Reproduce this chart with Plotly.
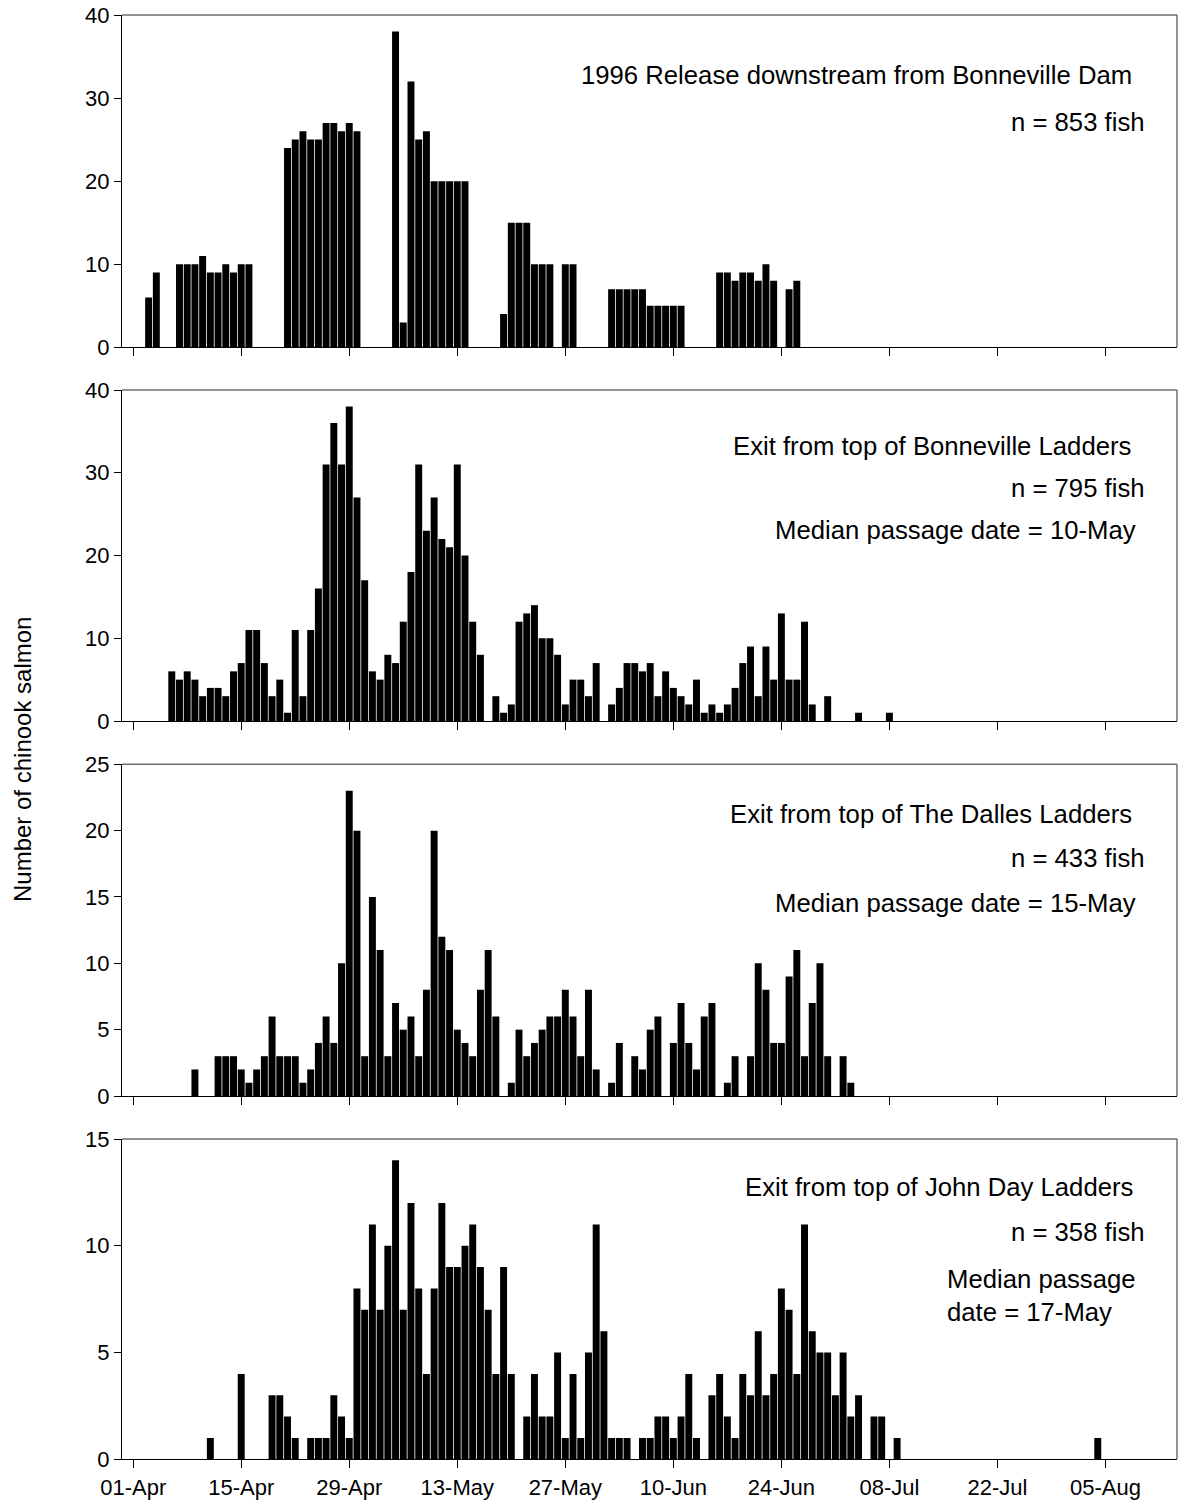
import pandas as pd
import plotly.graph_objects as go

# ---------------- data (daily counts) ----------------
release_start = "1996-04-03"
release_counts = [6, 9, 0, 0,
                  10, 10, 10, 11, 9, 9, 10, 9, 10, 10,
                  0, 0, 0, 0,
                  24, 25, 26, 25, 25, 27, 27, 26, 27, 26,
                  0, 0, 0, 0,
                  38, 3, 32, 25, 26, 20, 20, 20, 20, 20,
                  0, 0, 0, 0,
                  4, 15, 15, 15, 10, 10, 10, 0, 10, 10,
                  0, 0, 0, 0,
                  7, 7, 7, 7, 7, 5, 5, 5, 5, 5,
                  0, 0, 0, 0,
                  9, 9, 8, 9, 9, 8, 10, 8, 0, 7, 8]

bonneville_start = "1996-04-06"
bonneville_counts = [6, 5, 6, 5, 3, 4, 4, 3, 6, 7, 11, 11, 7, 3, 5, 1, 11, 3, 11, 16,
                     31, 36, 31, 38, 27, 17, 6, 5, 8, 7, 12,
                     18, 31, 23, 27, 22, 21, 31, 20, 12, 8, 0, 3, 1, 2, 12, 13, 14, 10, 10,
                     8, 2, 5, 5, 3, 7, 0, 2, 4, 7, 7, 6, 7, 3,
                     6, 4, 3, 2, 5, 1, 2, 1, 2, 4, 7, 9, 3, 9, 5, 13, 5, 5, 12, 2,
                     0, 3, 0, 0, 0, 1, 0, 0, 0, 1]

dalles_start = "1996-04-09"
dalles_counts = [2, 0, 0, 3, 3, 3, 2, 1, 2, 3, 6, 3, 3, 3, 1, 2, 4, 6, 4, 10,
                 23, 20, 3, 15, 11, 3, 7, 5, 6, 3, 8,
                 20, 12, 11, 5, 4, 3, 8, 11, 6, 0, 1, 5, 3, 4, 5, 6, 6, 8, 6,
                 3, 8, 2, 0, 1, 4, 0, 3, 2, 5,
                 6, 0, 4, 7, 4, 2, 6, 7, 0, 1, 3, 0, 3, 10, 8, 4, 4, 9, 11, 3,
                 7, 10, 3, 0, 3, 1]

johnday_start = "1996-04-11"
johnday_counts = [1, 0, 0, 0, 4, 0, 0, 0, 3, 3, 2, 1, 0, 1, 1, 1, 3, 2, 1, 8,
                  7, 11, 7, 10, 14, 7, 12, 8,
                  4, 8, 12, 9, 9, 10, 11, 9, 7, 4, 9, 4, 0, 2, 4, 2, 2, 5, 1, 4,
                  1, 5, 11, 6, 1, 1, 1, 0,
                  1, 1, 2, 2, 1, 2, 4, 1, 0, 3, 4, 2, 1, 4, 3, 6, 3, 4, 8, 7,
                  4, 11, 6, 5, 5, 3, 5, 2, 3, 0, 2, 2, 0, 1,
                  0, 0, 0, 0, 0, 0, 0, 0, 0, 0, 0, 0, 0, 0, 0, 0, 0, 0, 0, 0,
                  0, 0, 0, 0, 0, 1]

tick_dates = ["1996-04-01", "1996-04-15", "1996-04-29", "1996-05-13", "1996-05-27",
              "1996-06-10", "1996-06-24", "1996-07-08", "1996-07-22", "1996-08-05"]
tick_labels = ["01-Apr", "15-Apr", "29-Apr", "13-May", "27-May",
               "10-Jun", "24-Jun", "08-Jul", "22-Jul", "05-Aug"]

y_ranges = [40, 40, 25, 15]
y_ticks = [[0, 10, 20, 30, 40], [0, 10, 20, 30, 40], [0, 5, 10, 15, 20, 25], [0, 5, 10, 15]]

panel_texts = [
    ["1996 Release downstream from Bonneville Dam", "n = 853 fish"],
    ["Exit from top of Bonneville Ladders", "n = 795 fish", "Median passage date = 10-May"],
    ["Exit from top of The Dalles Ladders", "n = 433 fish", "Median passage date = 15-May"],
    ["Exit from top of John Day Ladders", "n = 358 fish", "Median passage<br>date = 17-May"],
]
y_title = "Number of chinook salmon"

# ---------------- layout geometry (pixels) ----------------
W, H = 1180, 1500
PL, PR = 122, 1177
panel_px = [(15, 347.3), (390, 721), (764.3, 1096), (1139, 1459.3)]
# annotation placements: (x_px, y_px, anchor)
text_pos = [
    [(1134, 75, "right"), (1147, 122, "right")],
    [(1133, 446, "right"), (1147, 488, "right"), (1138, 530, "right")],
    [(1134, 814, "right"), (1147, 858, "right"), (1138, 903, "right")],
    [(1135, 1187, "right"), (1147, 1232, "right"), (945, 1295, "left")],
]

FONT = "Liberation Sans, Arial, sans-serif"


def px_x(px):
    return (px - PL) / (PR - PL)


def px_y(py):
    return 1 - py / H


series = [(release_start, release_counts), (bonneville_start, bonneville_counts),
          (dalles_start, dalles_counts), (johnday_start, johnday_counts)]

fig = go.Figure()
layout = dict(
    width=W, height=H,
    margin=dict(l=PL, r=W - PR, t=0, b=0, autoexpand=False),
    paper_bgcolor="white", plot_bgcolor="white",
    showlegend=False, bargap=0.1,
    font=dict(family=FONT, color="black", size=22),
)
annotations = []
shapes = []

for i, (start, counts) in enumerate(series):
    n = i + 1
    xa = "x" if n == 1 else f"x{n}"
    ya = "y" if n == 1 else f"y{n}"
    dates = pd.date_range(start, periods=len(counts), freq="D")
    fig.add_trace(go.Bar(x=dates, y=counts, xaxis=xa, yaxis=ya,
                         marker=dict(color="black", line=dict(width=0))))
    top, bot = panel_px[i]
    layout["xaxis" if n == 1 else f"xaxis{n}"] = dict(
        type="date", domain=[0, 1], anchor=ya,
        range=["1996-03-30 13:12", "1996-08-14 06:29"],
        tickmode="array", tickvals=tick_dates, ticktext=tick_labels,
        showticklabels=(n == 4), ticks="outside", ticklen=8, tickwidth=1,
        tickcolor="black", showline=True, linecolor="black", linewidth=1,
        showgrid=False, zeroline=False, automargin=False,
        tickfont=dict(family=FONT, size=22, color="black"),
    )
    layout["yaxis" if n == 1 else f"yaxis{n}"] = dict(
        domain=[px_y(bot), px_y(top)], anchor=xa,
        range=[0, y_ranges[i]], tickmode="array", tickvals=y_ticks[i],
        ticks="outside", ticklen=7, tickwidth=1, tickcolor="black",
        showline=True, linecolor="black", linewidth=1,
        showgrid=False, zeroline=False, automargin=False,
        tickfont=dict(family=FONT, size=22, color="black"),
    )
    # top and right frame lines
    shapes.append(dict(type="line", xref=f"{xa} domain", yref=f"{ya} domain",
                       x0=0, x1=1, y0=1, y1=1, line=dict(color="#6e6e6e", width=1.5)))
    shapes.append(dict(type="line", xref=f"{xa} domain", yref=f"{ya} domain",
                       x0=1, x1=1, y0=0, y1=1, line=dict(color="#6e6e6e", width=1.5)))
    for txt, (xp, yp, anc) in zip(panel_texts[i], text_pos[i]):
        annotations.append(dict(
            text=txt, xref="paper", yref="paper", x=px_x(xp), y=px_y(yp),
            xanchor=anc, yanchor="middle", align=anc, showarrow=False,
            font=dict(family=FONT, size=25.7, color="black"),
        ))

annotations.append(dict(
    text=y_title, xref="paper", yref="paper", x=px_x(22), y=px_y(760),
    xanchor="center", yanchor="middle", textangle=-90, showarrow=False,
    font=dict(family=FONT, size=24, color="black"),
))

layout["annotations"] = annotations
layout["shapes"] = shapes
fig.update_layout(**layout)
fig.write_html("out.html")
